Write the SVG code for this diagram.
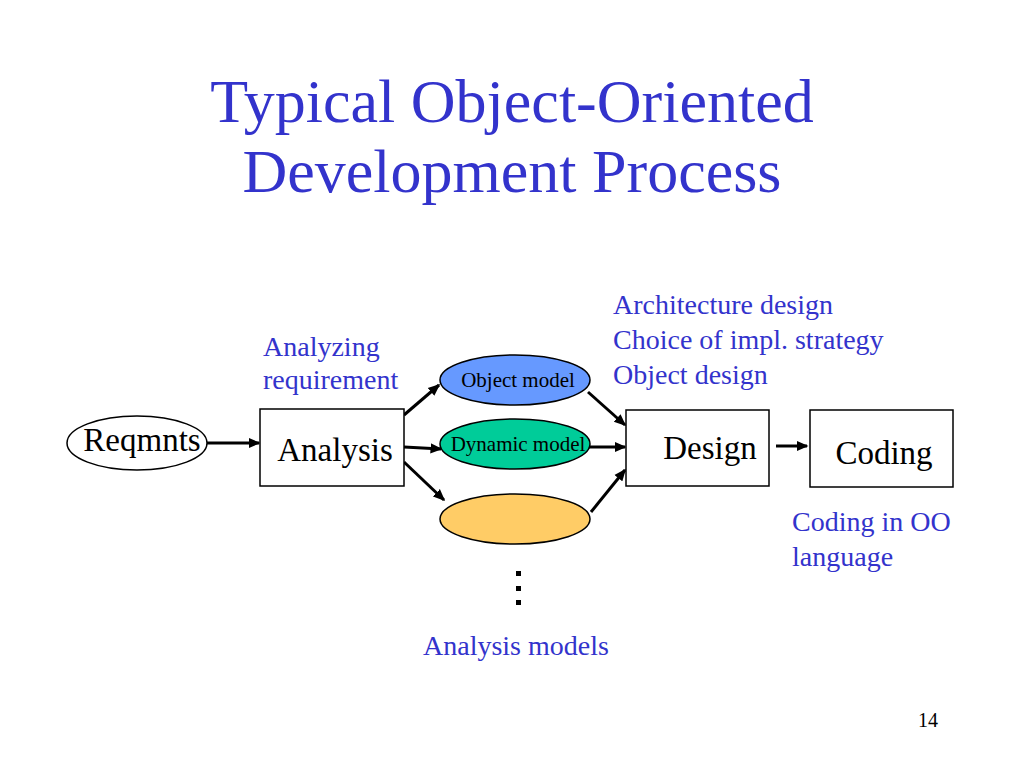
<svg xmlns="http://www.w3.org/2000/svg" width="1024" height="768" viewBox="0 0 1024 768">
<style>
text{font-family:"Liberation Serif","Times New Roman",serif}
.t{fill:#3333cc;font-size:62px;text-anchor:middle}
.b{fill:#3333cc;font-size:28px}
.n{fill:#000;font-size:33px;text-anchor:middle}
.s{fill:#000;font-size:21px;text-anchor:middle}
.box{fill:#fff;stroke:#000;stroke-width:1.5}
.c line{stroke:#000;stroke-width:3;marker-end:url(#a)}
</style>
<defs><marker id="a" markerWidth="4" markerHeight="4" refX="3.5" refY="2" orient="auto" markerUnits="strokeWidth"><path d="M0,0.3L4,2L0,3.7z"/></marker></defs>
<rect width="1024" height="768" fill="#fff"/>
<text class="t" x="512" y="122">Typical Object-Oriented</text>
<text class="t" x="512" y="192">Development Process</text>
<text class="b" x="263" y="356">Analyzing</text>
<text class="b" x="263" y="389">requirement</text>
<text class="b" x="613" y="314">Architecture design</text>
<text class="b" x="613" y="349">Choice of impl. strategy</text>
<text class="b" x="613" y="384">Object design</text>
<text class="b" x="792" y="531">Coding in OO</text>
<text class="b" x="792" y="566">language</text>
<text class="b" x="423" y="655">Analysis models</text>
<text x="928" y="727" font-size="20" fill="#000" text-anchor="middle">14</text>
<g class="c">
<line x1="207" y1="443" x2="259" y2="443"/>
<line x1="404" y1="415" x2="439" y2="385"/>
<line x1="404" y1="447" x2="441" y2="449"/>
<line x1="404" y1="462" x2="444" y2="500"/>
<line x1="588" y1="392" x2="625" y2="425"/>
<line x1="589" y1="447" x2="625" y2="447"/>
<line x1="591" y1="512" x2="625" y2="470"/>
<line x1="776" y1="446" x2="807" y2="446"/>
</g>
<g id="reqmnts"><ellipse cx="137" cy="443" rx="70" ry="27" fill="#fff" stroke="#000" stroke-width="1.5"/><text class="n" x="142" y="451">Reqmnts</text></g>
<g id="analysis"><rect class="box" x="260" y="409" width="144" height="77"/><text class="n" x="335" y="461">Analysis</text></g>
<g id="object"><ellipse cx="515" cy="380" rx="75" ry="25" fill="#6699ff" stroke="#000" stroke-width="1.5"/><text class="s" x="518" y="387">Object model</text></g>
<g id="dynamic"><ellipse cx="515" cy="444" rx="75" ry="25" fill="#00cc99" stroke="#000" stroke-width="1.5"/><text class="s" x="518" y="451">Dynamic model</text></g>
<g id="other"><ellipse cx="515" cy="519" rx="75" ry="25" fill="#ffcc66" stroke="#000" stroke-width="1.5"/></g>
<g id="dots" fill="#000"><rect x="516" y="571" width="5" height="5"/><rect x="516" y="586" width="5" height="5"/><rect x="516" y="600" width="5" height="5"/></g>
<g id="design"><rect class="box" x="626" y="410" width="143" height="76"/><text class="n" x="710" y="459">Design</text></g>
<g id="coding"><rect class="box" x="810" y="410" width="143" height="77"/><text class="n" x="884" y="464">Coding</text></g>
</svg>
